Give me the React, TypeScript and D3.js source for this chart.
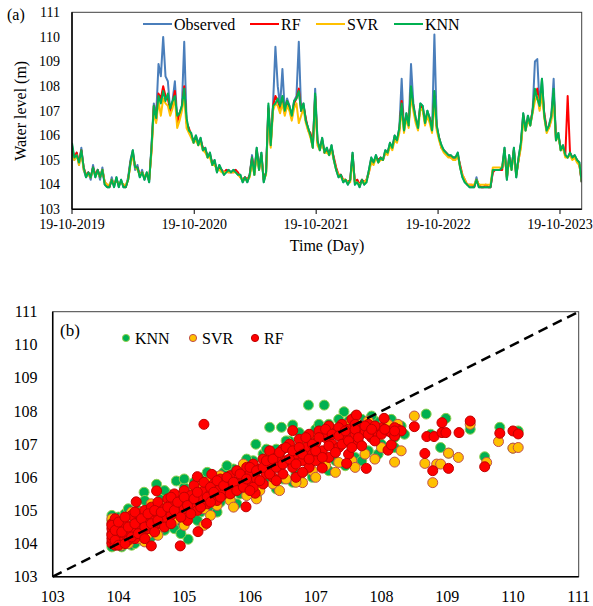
import React from 'react';
import * as d3 from 'd3';

// ---------- Data (a): weekly water level series starting 19-10-2019 ----------
const startDate = '2019-10-19';
const stepDays = 7;
const endDate = '2023-12-23';

const observed = [
  105.6,105.0,105.3,104.8,105.5,104.6,104.3,104.5,104.2,104.8,
  104.3,104.6,104.2,104.7,104.0,103.9,103.9,104.3,103.9,104.3,
  103.9,104.2,103.9,103.9,104.3,105.0,105.4,104.6,104.8,104.3,
  104.6,104.2,104.5,104.1,105.6,107.3,106.8,108.9,108.4,110.0,
  108.4,108.2,107.0,107.4,108.2,106.7,106.9,107.2,109.8,106.6,
  106.2,106.0,105.7,106.0,105.7,105.9,105.4,105.5,105.1,105.3,
  104.8,105.0,104.5,104.8,104.6,104.4,104.6,104.6,104.5,104.6,
  104.6,104.4,104.4,104.1,104.3,104.1,104.4,105.2,104.4,105.5,
  104.6,105.3,104.1,104.5,107.2,105.6,107.3,109.6,108.0,107.2,
  108.7,107.0,107.5,107.2,106.8,107.4,107.6,109.8,107.0,107.3,
  106.6,106.3,106.0,105.5,107.9,105.8,105.4,105.9,105.3,105.5,
  105.2,105.6,105.0,104.6,104.3,104.4,104.1,104.2,104.0,104.2,
  105.3,104.0,104.2,103.9,104.2,104.0,104.2,104.6,105.1,104.9,
  105.2,104.9,105.1,105.0,105.4,105.3,105.7,105.5,106.0,105.8,
  106.3,108.3,106.2,106.9,106.4,108.9,107.3,106.7,106.3,107.3,
  107.2,106.5,107.0,106.7,106.2,110.1,106.4,105.9,105.6,105.4,
  105.3,105.2,105.2,105.1,105.1,105.3,104.7,104.3,104.1,104.0,
  103.9,103.9,103.9,104.3,103.9,103.9,103.9,103.9,103.9,103.9,
  104.6,104.6,104.6,104.6,104.7,105.5,104.2,105.2,104.6,105.5,
  104.3,105.1,105.7,106.9,106.2,106.8,106.4,107.0,109.0,109.1,
  107.2,108.3,106.8,106.2,106.4,106.8,108.3,105.8,106.1,105.4,
  105.6,105.2,105.1,105.3,105.1,105.2,105.0,104.9,104.1,
];

const rfSeries = [
  105.5,105.1,105.3,104.9,105.4,104.7,104.4,104.5,104.3,104.7,
  104.4,104.6,104.3,104.6,104.1,104.0,103.9,104.2,104.0,104.2,
  104.0,104.1,104.0,103.9,104.2,104.9,105.3,104.7,104.7,104.4,
  104.5,104.3,104.4,104.2,105.4,107.2,106.6,107.7,107.5,108.0,
  107.6,107.5,107.0,107.3,107.8,106.5,106.9,107.1,108.0,106.5,
  106.3,106.0,105.8,105.9,105.7,105.8,105.5,105.4,105.2,105.2,
  104.9,104.9,104.6,104.7,104.6,104.5,104.6,104.5,104.5,104.5,
  104.6,104.5,104.3,104.2,104.3,104.2,104.4,105.1,104.5,105.4,
  104.7,105.2,104.2,104.5,107.1,105.7,107.2,107.6,107.4,107.1,
  107.5,106.9,107.4,107.1,106.7,107.3,107.5,107.9,107.0,107.2,
  106.7,106.2,106.1,105.6,107.6,105.7,105.5,105.8,105.3,105.4,
  105.3,105.5,105.1,104.7,104.4,104.4,104.2,104.2,104.1,104.2,
  105.2,104.1,104.2,104.0,104.2,104.1,104.2,104.5,105.0,104.9,
  105.1,105.0,105.1,105.0,105.3,105.3,105.6,105.5,105.9,105.8,
  106.2,107.4,106.3,106.8,106.5,107.8,107.2,106.6,106.4,107.2,
  107.1,106.6,106.9,106.7,106.3,107.6,106.3,105.9,105.5,105.4,
  105.3,105.2,105.1,105.1,105.1,105.2,104.8,104.4,104.2,104.0,
  104.0,104.0,103.9,104.2,104.0,103.9,103.9,104.0,103.9,103.9,
  104.5,104.6,104.6,104.6,104.6,105.4,104.3,105.1,104.7,105.4,
  104.4,105.0,105.6,106.8,106.3,106.7,106.5,107.0,107.7,107.9,
  107.1,107.9,106.9,106.3,106.3,106.7,107.7,105.9,106.0,105.5,
  105.5,105.2,107.6,105.3,105.1,105.1,105.0,104.8,104.1,
];

const svrSeries = [
  105.4,105.0,105.2,104.8,105.3,104.6,104.4,104.4,104.3,104.6,
  104.4,104.5,104.3,104.6,104.1,104.0,104.0,104.2,104.0,104.2,
  104.0,104.1,104.0,104.0,104.2,104.8,105.2,104.7,104.6,104.4,
  104.5,104.3,104.4,104.2,105.3,107.0,106.5,107.4,106.8,107.5,
  107.3,107.2,106.8,107.1,107.5,106.3,106.6,107.0,107.6,106.3,
  106.1,105.9,105.7,105.8,105.6,105.7,105.4,105.3,105.1,105.1,
  104.8,104.8,104.6,104.6,104.5,104.5,104.5,104.5,104.5,104.5,
  104.5,104.4,104.3,104.2,104.2,104.2,104.3,104.9,104.4,105.2,
  104.6,105.1,104.2,104.4,106.9,105.5,107.0,107.3,107.2,106.9,
  107.3,106.8,107.2,107.0,106.6,107.1,107.3,106.5,106.8,107.1,
  106.5,106.2,105.9,105.5,107.4,105.6,105.4,105.7,105.3,105.3,
  105.2,105.4,105.0,104.6,104.4,104.3,104.2,104.2,104.1,104.1,
  105.0,104.1,104.1,104.0,104.1,104.1,104.2,104.5,104.9,104.8,
  105.1,104.9,105.0,105.0,105.3,105.2,105.6,105.4,105.8,105.7,
  106.1,107.1,106.1,106.7,106.3,107.6,107.0,106.5,106.2,107.1,
  107.0,106.4,106.8,106.5,106.1,107.4,106.2,105.8,105.5,105.3,
  105.2,105.1,105.1,105.0,105.0,105.2,104.7,104.4,104.2,104.0,
  104.0,104.0,104.0,104.2,104.0,104.0,104.0,104.0,104.0,104.0,
  104.7,104.7,104.7,104.7,104.7,105.3,104.3,105.0,104.6,105.3,
  104.4,105.0,105.5,106.6,106.2,106.6,106.4,106.9,107.4,107.6,
  107.0,107.7,106.7,106.1,106.3,106.6,107.5,105.8,106.0,105.4,
  105.5,105.1,105.1,105.2,105.0,105.1,104.9,104.8,104.2,
];

const knnSeries = [
  105.7,105.1,105.2,104.9,105.4,104.7,104.3,104.5,104.3,104.7,
  104.3,104.6,104.3,104.6,104.0,103.9,103.9,104.2,103.9,104.3,
  103.9,104.2,103.9,103.9,104.2,104.9,105.4,104.7,104.7,104.3,
  104.5,104.2,104.5,104.1,105.5,107.2,106.7,107.6,107.3,107.8,
  107.4,107.7,107.1,107.4,107.6,106.8,106.9,107.2,107.9,106.7,
  106.2,106.1,105.7,106.0,105.6,105.9,105.4,105.5,105.1,105.3,
  104.8,105.0,104.5,104.8,104.6,104.4,104.5,104.6,104.5,104.6,
  104.5,104.4,104.4,104.1,104.3,104.1,104.4,105.1,104.4,105.5,
  104.6,105.3,104.1,104.5,107.3,105.6,107.2,107.3,107.5,107.2,
  107.6,107.0,107.4,107.2,106.8,107.4,107.5,107.8,107.0,107.3,
  106.6,106.3,106.0,105.5,107.7,105.8,105.4,105.9,105.3,105.5,
  105.2,105.6,105.0,104.6,104.3,104.4,104.1,104.2,104.0,104.2,
  105.3,104.0,104.1,103.9,104.2,104.0,104.1,104.6,105.1,104.9,
  105.2,104.9,105.1,105.0,105.4,105.3,105.7,105.5,106.0,105.8,
  106.3,107.3,106.2,106.9,106.4,108.0,107.2,106.7,106.3,107.3,
  107.2,106.5,107.0,106.7,106.2,107.8,106.4,105.9,105.6,105.4,
  105.3,105.2,105.2,105.1,105.1,105.3,104.7,104.3,104.1,104.0,
  103.9,103.9,103.9,104.2,103.9,103.9,103.9,103.9,103.9,103.9,
  104.6,104.6,104.6,104.6,104.7,105.5,104.2,105.2,104.6,105.5,
  104.3,105.1,105.7,106.9,106.2,106.8,106.4,107.0,107.9,107.5,
  107.2,108.3,106.8,106.2,106.4,106.8,107.9,105.8,106.1,105.4,
  105.6,105.2,105.1,105.3,105.1,105.2,105.0,104.9,104.1,
];

const seriesNames = ['Observed', 'RF', 'SVR', 'KNN'];
const seriesColors = ['#4a7ebb', '#ff0000', '#ffc000', '#00b050'];
const yearTickDates = ['2019-10-19', '2020-10-19', '2021-10-19', '2022-10-19', '2023-10-19'];
const yearTickLabels = ['19-10-2019', '19-10-2020', '19-10-2021', '19-10-2022', '19-10-2023'];
const levelTicks = [103, 104, 105, 106, 107, 108, 109, 110, 111];

// ---------- Data (b): observed vs predicted ----------
const knnPoints: [number, number][] = [
  [103.9,103.9],[103.9,104.7],[103.95,104.35],[104.0,104.8],[104.05,103.9],
  [104.1,104.9],[104.2,103.95],[104.25,104.7],[104.3,105.0],[104.35,104.1],
  [104.39,105.55],[104.45,105.15],[104.5,104.2],[104.55,104.9],[104.58,105.79],
  [104.65,105.35],[104.7,104.4],[104.75,105.5],[104.8,104.55],[104.88,105.89],
  [104.9,105.4],[104.95,104.6],[105.0,105.7],[105.06,104.13],[105.1,104.8],
  [105.15,105.85],[105.25,104.95],[105.3,106.0],[105.4,105.1],[105.45,106.05],
  [105.55,105.25],[105.6,106.15],[105.7,105.35],[105.75,106.25],[105.85,105.5],
  [105.9,106.35],[106.0,105.6],[106.05,106.5],[106.09,107.0],[106.15,105.7],
  [106.2,106.7],[106.3,107.51],[106.3,105.9],[106.4,106.85],[106.48,107.51],
  [106.5,105.95],[106.6,107.1],[106.65,107.58],[106.7,106.1],[106.8,107.25],
  [106.89,108.18],[106.9,106.2],[107.0,107.45],[107.1,106.4],[107.13,108.18],
  [107.2,107.6],[107.3,106.5],[107.43,107.98],[107.5,107.7],[107.6,106.6],
  [107.7,107.75],[107.8,106.8],[107.9,107.7],[108.0,107.0],[108.1,107.65],
  [108.2,107.2],[108.3,107.55],[108.68,107.91],[108.75,107.3],[108.9,106.9],
  [108.98,107.78],[109.02,106.73],[109.35,107.45],[109.57,106.62],[109.8,107.51],
  [110.0,106.88],[110.08,107.4],
  [103.9,104.85],[104.0,104.05],[104.15,105.05],[104.25,104.0],[104.4,105.3],
  [104.6,104.35],[104.7,105.6],[104.85,104.45],[105.0,105.95],[105.2,104.7],
  [105.35,106.15],[105.5,104.95],[105.65,106.35],[105.8,105.2],[105.95,106.55],
  [106.1,105.45],[106.25,106.85],[106.4,105.65],[106.55,107.1],[106.65,105.85],
  [106.75,107.35],[106.95,106.0],[107.05,107.6],[107.2,106.2],[107.35,107.75],
  [107.45,106.35],[107.6,107.85],[107.7,106.5],[107.85,107.85],[107.95,106.7],
  [108.15,107.75],[108.2,106.9],[108.35,107.3],[104.95,104.3],
];

const svrPoints: [number, number][] = [
  [103.9,104.05],[103.95,104.6],[104.05,104.75],[104.15,104.0],[104.25,104.5],
  [104.35,104.95],[104.45,104.3],[104.55,105.05],[104.65,104.5],[104.75,105.2],
  [104.85,104.7],[104.95,105.45],[105.05,104.85],[105.15,105.6],[105.3,105.05],
  [105.35,105.85],[105.5,105.15],[105.6,106.0],[105.7,105.3],[105.85,106.2],
  [105.95,105.45],[106.05,106.3],[106.15,105.6],[106.25,106.5],[106.35,105.8],
  [106.45,106.7],[106.55,105.95],[106.65,106.9],[106.75,106.0],[106.8,105.84],
  [106.85,107.1],[106.95,106.2],[107.05,107.3],[107.15,106.35],[107.25,107.45],
  [107.35,106.45],[107.45,107.55],[107.55,106.5],[107.65,107.6],[107.75,106.7],
  [107.85,107.5],[108.0,106.9],[108.2,106.46],[108.25,107.6],[108.5,107.85],
  [108.66,106.42],[108.78,105.84],[108.84,106.4],[108.9,106.4],[109.02,106.73],
  [109.17,106.6],[109.35,107.6],[109.6,106.45],[109.78,107.08],[110.0,106.88],
  [110.08,106.9],[105.3,104.55],[104.4,104.05],
  [103.9,104.75],[104.05,103.95],[104.2,104.95],[104.3,104.15],[104.5,105.2],
  [104.6,104.25],[104.8,105.35],[105.0,104.55],[105.2,105.8],[105.4,104.85],
  [105.55,106.05],[105.75,105.1],[105.9,106.4],[106.1,105.35],[106.3,106.7],
  [106.45,105.6],[106.6,107.0],[106.7,105.85],[106.9,107.2],[107.0,106.0],
  [107.2,107.4],[107.3,106.15],[107.5,107.6],[107.6,106.3],[107.8,107.7],
  [107.9,106.55],[108.1,107.6],[108.3,106.8],
];

const rfPoints: [number, number][] = [
  [103.9,104.0],[103.9,104.15],[103.9,104.3],[103.9,104.45],[103.9,104.6],
  [103.95,104.75],[103.95,103.95],[104.0,104.2],[104.0,104.5],[104.05,104.05],
  [104.1,104.3],[104.1,104.6],[104.15,104.1],[104.2,104.85],[104.2,104.4],
  [104.25,104.15],[104.27,105.26],[104.3,104.6],[104.3,104.9],[104.35,104.3],
  [104.4,104.7],[104.4,105.0],[104.45,104.45],[104.5,103.93],[104.5,104.8],
  [104.5,105.1],[104.55,104.55],[104.58,105.59],[104.6,104.9],[104.6,105.25],
  [104.65,104.6],[104.7,105.05],[104.7,104.75],[104.75,105.35],[104.8,104.85],
  [104.8,105.2],[104.85,105.5],[104.9,104.95],[104.94,103.93],[104.95,105.3],
  [105.0,105.05],[105.0,105.6],[105.05,104.7],[105.1,105.2],[105.1,105.45],
  [105.15,105.75],[105.2,106.02],[105.21,104.36],[105.2,105.0],[105.25,105.35],
  [105.3,105.6],[105.3,107.6],[105.34,104.61],[105.35,105.2],[105.4,105.5],
  [105.42,106.09],[105.45,105.8],[105.5,105.3],[105.5,105.6],[105.55,105.95],
  [105.6,105.5],[105.65,105.75],[105.7,106.05],[105.75,105.6],[105.8,105.85],
  [105.8,106.2],[105.85,105.7],[105.9,106.0],[105.94,105.11],[105.95,106.3],
  [106.0,105.85],[106.0,106.1],[106.05,106.4],[106.08,105.52],[106.1,105.95],
  [106.15,106.25],[106.2,106.55],[106.2,105.8],[106.25,106.1],[106.3,106.4],
  [106.3,106.8],[106.35,106.0],[106.4,106.6],[106.45,106.3],[106.5,106.85],
  [106.5,106.1],[106.55,106.5],[106.6,107.0],[106.65,107.41],[106.65,106.3],
  [106.7,106.7],[106.75,107.15],[106.8,106.5],[106.85,106.9],[106.9,107.3],
  [106.9,106.3],[106.95,106.7],[107.0,107.05],[107.0,106.5],[107.05,107.4],
  [107.1,106.8],[107.15,107.2],[107.2,107.55],[107.2,106.6],[107.25,107.0],
  [107.3,107.35],[107.35,106.9],[107.4,107.6],[107.45,107.2],[107.5,107.45],
  [107.5,106.7],[107.55,107.75],[107.6,107.3],[107.62,107.88],[107.65,107.05],
  [107.7,107.5],[107.75,107.35],[107.8,107.6],[107.85,107.2],[107.9,107.45],
  [107.95,107.3],[108.0,107.5],[108.04,107.78],[108.1,107.4],[108.15,107.35],
  [108.25,107.45],[108.1,106.82],[108.15,106.98],[106.7,106.0],[106.8,106.15],
  [107.1,106.28],[107.47,106.42],[107.77,106.27],[107.9,107.55],[108.2,107.5],
  [108.3,107.4],[108.2,107.25],[107.35,107.5],[107.6,107.6],
  [108.5,107.53],[108.66,106.72],[108.69,107.23],[108.78,106.2],[108.8,107.23],
  [108.92,107.35],[108.92,107.65],[108.98,107.35],[109.02,106.27],[109.18,107.35],
  [109.35,107.7],[109.57,106.32],[109.8,107.33],[110.0,107.4],[110.08,107.31],
  [103.9,104.25],[103.9,104.55],[103.95,104.1],[103.95,104.4],[104.0,103.95],
  [104.0,104.65],[104.05,104.35],[104.1,104.0],[104.1,104.8],[104.15,104.5],
  [104.2,104.2],[104.25,104.6],[104.25,104.95],[104.3,104.3],[104.35,104.75],
  [104.4,104.15],[104.4,104.5],[104.45,104.9],[104.5,104.6],[104.55,104.35],
  [104.55,105.0],[104.6,104.7],[104.65,104.95],[104.7,104.5],[104.75,105.1],
  [104.8,104.6],[104.8,105.4],[104.85,105.0],[104.9,105.25],[104.95,104.8],
  [105.0,105.4],[105.05,105.15],[105.1,104.9],[105.15,105.35],[105.2,105.55],
  [105.25,105.1],[105.3,105.85],[105.35,105.4],[105.4,105.25],[105.4,105.7],
  [105.45,105.55],[105.5,105.9],[105.55,105.4],[105.6,105.75],[105.65,106.0],
  [105.7,105.5],[105.75,105.85],[105.8,105.6],[105.85,106.1],[105.9,105.7],
  [105.95,105.95],[106.0,106.3],[106.05,105.7],[106.1,106.2],[106.15,105.9],
  [106.2,106.3],[106.25,106.5],[106.3,106.1],[106.35,106.55],[106.4,106.3],
  [106.45,106.75],[106.5,106.4],[106.55,106.9],[106.6,106.55],[106.65,106.8],
  [106.7,106.4],[106.75,106.9],[106.8,106.7],[106.85,107.2],[106.9,106.55],
  [106.95,107.0],[107.0,106.8],[107.05,107.2],[107.1,106.6],[107.15,107.45],
  [107.2,106.95],[107.25,107.3],[107.3,106.75],[107.35,107.25],[107.4,107.0],
  [107.45,107.4],[107.5,107.1],[107.55,106.9],[107.6,107.45],[107.65,107.2],
  [107.7,106.95],[107.75,107.55],[107.8,107.3],[107.85,107.45],[107.9,107.1],
  [108.0,107.3],[108.05,107.45],[108.2,107.4],[106.4,105.9],[106.0,105.6],
];

const scatterNames = ['KNN', 'SVR', 'RF'];
const scatterFills = ['#00b050', '#ffc000', '#ff0000'];
const scatterStrokes = ['#92d050', '#c0504d', '#c00000'];
const scatterData = [knnPoints, svrPoints, rfPoints];

const FONT = "'Liberation Serif', 'Times New Roman', Times, serif";

export default function App() {
  // ---- Panel (a) scales ----
  const parse = (s: string) => new Date(s + 'T00:00:00Z');
  const t0 = parse(startDate);
  const dateAt = (i: number) => new Date(t0.getTime() + i * stepDays * 86400000);
  const xT = d3.scaleUtc().domain([t0, parse(endDate)]).range([72, 581.7]);
  const yT = d3.scaleLinear().domain([103, 111]).range([209.3, 12.3]);
  const lineGen = d3
    .line<number>()
    .x((_, i) => xT(dateAt(i)))
    .y((d) => yT(d));
  const allSeries = [observed, rfSeries, svrSeries, knnSeries];

  // ---- Panel (b) scales ----
  const xS = d3.scaleLinear().domain([103, 111]).range([52.7, 578.7]);
  const yS = d3.scaleLinear().domain([103, 111]).range([576.7, 311.7]);

  const legendAX = [143, 250, 316, 394];
  const tstyle = { fontFamily: FONT };

  return (
    <svg
      width={593}
      height={606}
      style={{ position: 'absolute', left: 0, top: 0, background: '#fff', fontFamily: FONT }}
    >
      <rect x={0} y={0} width={593} height={606} fill="#fff" />
      {/* ===== Panel (a) ===== */}
      <g>
        <clipPath id="clipA">
          <rect x={72} y={12.3} width={509.7} height={197} />
        </clipPath>
        <g clipPath="url(#clipA)">
          {allSeries.map((s, k) => (
            <path
              key={k}
              d={lineGen(s) || ''}
              fill="none"
              stroke={seriesColors[k]}
              strokeWidth={2}
              strokeLinejoin="round"
            />
          ))}
        </g>
        <rect x={72} y={12.3} width={509.7} height={197} fill="none" stroke="#404040" strokeWidth={1} />
        <line x1={72} x2={72} y1={12.3} y2={209.3} stroke="#000" strokeWidth={1.5} />
        <line x1={72} x2={581.7} y1={209.3} y2={209.3} stroke="#000" strokeWidth={1.5} />
        {yearTickDates.map((d, i) => (
          <g key={d}>
            <line x1={xT(parse(d))} x2={xT(parse(d))} y1={209.3} y2={214} stroke="#000" strokeWidth={1} />
            <text x={xT(parse(d))} y={228.5} fontSize={14} textAnchor="middle" fill="#000" style={tstyle}>
              {yearTickLabels[i]}
            </text>
          </g>
        ))}
        {levelTicks.map((v) => (
          <text key={v} x={60} y={yT(v) + 4.8} fontSize={14} textAnchor="end" fill="#000" style={tstyle}>
            {v}
          </text>
        ))}
        <text x={7} y={19.5} fontSize={16} fill="#000" style={tstyle}>(a)</text>
        <text
          transform={`translate(25.5,${(12.3 + 209.3) / 2}) rotate(-90)`}
          fontSize={16}
          textAnchor="middle"
          fill="#000"
          style={tstyle}
        >
          Water level (m)
        </text>
        <text x={327} y={251} fontSize={16} textAnchor="middle" fill="#000" style={tstyle}>
          Time (Day)
        </text>
        {seriesNames.map((n, k) => (
          <g key={n}>
            <line
              x1={legendAX[k]}
              x2={legendAX[k] + 29}
              y1={24}
              y2={24}
              stroke={seriesColors[k]}
              strokeWidth={2}
            />
            <text x={legendAX[k] + 31} y={29.5} fontSize={16} fill="#000" style={tstyle}>
              {n}
            </text>
          </g>
        ))}
      </g>

      {/* ===== Panel (b) ===== */}
      <g>
        <rect x={52.7} y={311.7} width={526} height={265} fill="none" stroke="#404040" strokeWidth={1} />
        {scatterData.map((pts, k) => (
          <g key={k}>
            {pts.map((p, j) => (
              <circle
                key={j}
                cx={xS(p[0])}
                cy={yS(p[1])}
                r={5}
                fill={scatterFills[k]}
                stroke={scatterStrokes[k]}
                strokeWidth={1}
              />
            ))}
          </g>
        ))}
        <line
          x1={xS(103)}
          y1={yS(103)}
          x2={xS(111)}
          y2={yS(111)}
          stroke="#000"
          strokeWidth={2.5}
          strokeDasharray="10,6"
        />
        <line x1={52.7} x2={52.7} y1={311.7} y2={576.7} stroke="#000" strokeWidth={1.5} />
        <line x1={52.7} x2={578.7} y1={576.7} y2={576.7} stroke="#000" strokeWidth={1.5} />
        {levelTicks.map((v) => (
          <text key={'y' + v} x={37.5} y={yS(v) + 5.5} fontSize={16} textAnchor="end" fill="#000" style={tstyle}>
            {v}
          </text>
        ))}
        {levelTicks.map((v) => (
          <text key={'x' + v} x={xS(v)} y={601.5} fontSize={16} textAnchor="middle" fill="#000" style={tstyle}>
            {v}
          </text>
        ))}
        <text x={60} y={336} fontSize={17} fill="#000" style={tstyle}>(b)</text>
        {scatterNames.map((n, k) => {
          const lx = [126, 193, 255][k];
          return (
            <g key={n}>
              <circle cx={lx} cy={338} r={3.6} fill={scatterFills[k]} stroke={scatterStrokes[k]} strokeWidth={1} />
              <text x={lx + 9} y={343.5} fontSize={16} fill="#000" style={tstyle}>
                {n}
              </text>
            </g>
          );
        })}
      </g>
    </svg>
  );
}
